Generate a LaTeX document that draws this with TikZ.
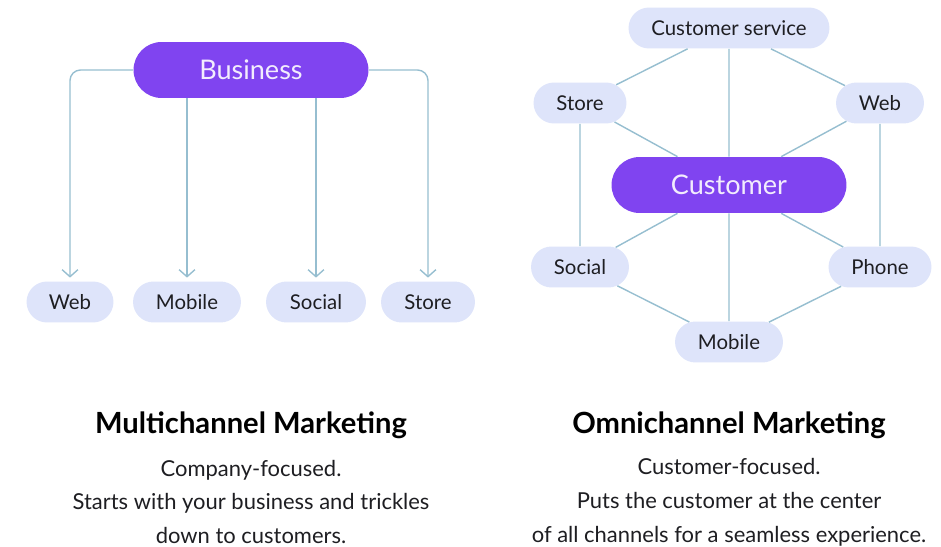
\documentclass[tikz,border=0pt]{standalone}
\usepackage{fontspec}
\setmainfont{Lato}
\usetikzlibrary{%
arrows.meta,%
shapes.misc}

\definecolor{chanpurple}{RGB}{128,68,240}
\definecolor{chanfill}{RGB}{222,228,250}
\definecolor{chanline}{RGB}{150,190,208}
\definecolor{chantext}{RGB}{30,30,34}

\tikzset{
  hub/.style={rounded rectangle,fill=chanpurple,text=chanpurple!10,inner xsep=2pt,
    minimum width=4.84cm,minimum height=1.12cm,font=\fontsize{15.4}{17}\selectfont},
  channel/.style={rounded rectangle,fill=chanfill,text=chantext,inner xsep=2pt,
    minimum height=0.82cm,font=\fontsize{11.6}{13}\selectfont},
  link/.style={chanline,line width=0.8pt},
  feed/.style={link,-{Straight Barb[length=4pt,width=9pt]},rounded corners=6pt,shorten >=2pt},
  heading/.style={font=\fontsize{16.6}{19}\selectfont\bfseries,text=black},
  blurb/.style={align=center,font=\fontsize{12.5}{19.3}\selectfont,text=chantext}
}

\begin{document}
\begin{tikzpicture}[x=0.02cm,y=-0.02cm]
\useasboundingbox (0,0) rectangle (941,547);

% multichannel: business feeds each channel
\node[hub] (biz) at (251,70) {Business};
\node[channel,minimum width=1.88cm] (mweb) at (70,302) {Web};
\node[channel,minimum width=2.3cm] (mmobile) at (187,302) {Mobile};
\node[channel,minimum width=2.14cm] (msocial) at (316,302) {Social};
\node[channel,minimum width=2.02cm] (mstore) at (428,302) {Store};

\draw[feed] (biz.west) -| (mweb.north);
\draw[feed] (biz.south -| mmobile.north) -- (mmobile.north);
\draw[feed] (biz.south -| msocial.north) -- (msocial.north);
\draw[feed] (biz.east) -| (mstore.north);

% omnichannel: customer in the middle of a ring
\node[hub] (cust) at (729,185) {Customer};
\node[channel,minimum width=4.16cm] (oservice) at (729,28) {Customer service};
\node[channel,minimum width=2cm] (ostore) at (580,103) {Store};
\node[channel,minimum width=1.9cm] (oweb) at (880,103) {Web};
\node[channel,minimum width=2.1cm] (osocial) at (580,267) {Social};
\node[channel,minimum width=2.2cm] (ophone) at (880,267) {Phone};
\node[channel,minimum width=2.3cm] (omobile) at (729,342) {Mobile};

\foreach \a/\b in {oservice/ostore,oservice/oweb,ostore/osocial,oweb/ophone,
    osocial/omobile,ophone/omobile}
  \draw[link] (\a) -- (\b);
\foreach \a in {oservice,ostore,oweb,osocial,ophone,omobile}
  \draw[link] (cust) -- (\a);

% captions
\node[heading] (mtitle) at (251,425) {Multichannel Marketing};
\node[blurb] (mtext) at (251,502) {Company-focused.\\Starts with your business and trickles\\down to customers.};
\node[heading] (otitle) at (729,425) {Omnichannel Marketing};
\node[blurb] (otext) at (729,502) {Customer-focused.\\Puts the customer at the center\\of all channels for a seamless experience.};
\end{tikzpicture}
\end{document}
